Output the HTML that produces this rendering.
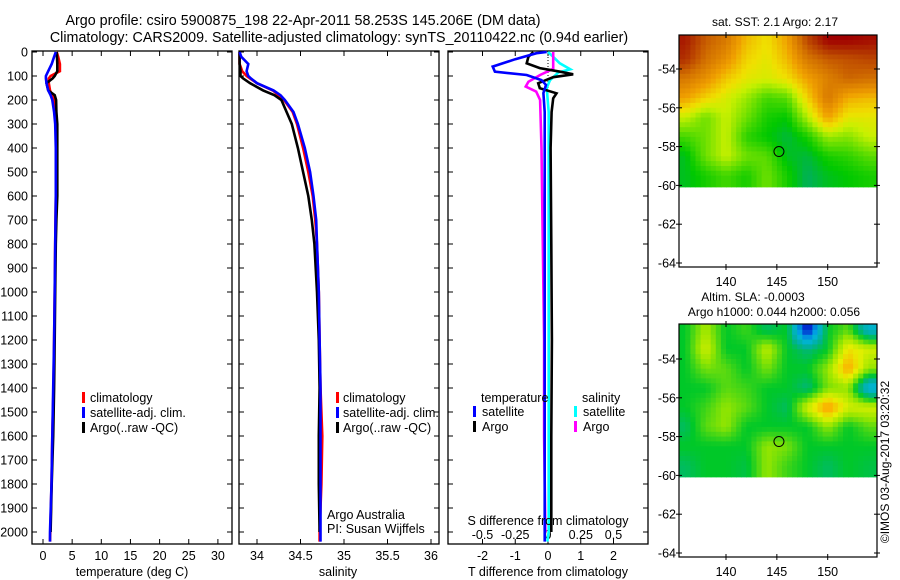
<!DOCTYPE html>
<html><head><meta charset="utf-8">
<style>
html,body{margin:0;padding:0;background:#fff;}
svg{display:block;font-family:"Liberation Sans",sans-serif;}
text{fill:#000;}
</style></head>
<body>
<svg id="fig" width="900" height="580" viewBox="0 0 900 580" xmlns="http://www.w3.org/2000/svg">
<rect width="900" height="580" fill="#fff"/>
<text x="303" y="25" font-size="14.3" text-anchor="middle">Argo profile: csiro 5900875_198 22-Apr-2011 58.253S 145.206E (DM data)</text>
<text x="339" y="42" font-size="14.3" text-anchor="middle">Climatology: CARS2009. Satellite-adjusted climatology: synTS_20110422.nc (0.94d earlier)</text>
<g id="g"></g>
</svg>
<script>
// ---- data ----
const depthTicks=[0,100,200,300,400,500,600,700,800,900,1000,1100,1200,1300,1400,1500,1600,1700,1800,1900,2000];
const tempTicks=[0,5,10,15,20,25,30];
const salTicks=[34,34.5,35,35.5,36];
const dTTicks=[-2,-1,0,1,2];
const dSTicks=[-0.5,-0.25,0,0.25,0.5];
const dSTickLabels=["-0.5","-0.25","0","0.25","0.5"];

const profDepth=[0,20,50,80,100,110,130,160,180,200,250,300,400,500,600,700,800,1000,1200,1400,1600,1800,2000,2040];
const tClim=[2.35,2.6,2.9,2.9,1.3,1.0,1.0,1.2,1.6,1.9,2.1,2.2,2.25,2.25,2.2,2.15,2.1,2.0,1.9,1.8,1.6,1.45,1.25,1.2];
const tSat=[2.2,1.9,1.5,0.9,0.5,0.5,0.6,0.9,1.3,1.6,1.9,2.1,2.2,2.2,2.2,2.15,2.1,2.0,1.9,1.75,1.6,1.45,1.2,1.2];
const argoDepth=[0,20,50,80,100,110,130,160,180,200,250,300,400,500,600,700,800,1000,1200,1400,1600,1800,2000];
const tArgo=[2.35,2.4,2.45,2.45,2.0,1.65,0.6,0.9,2.0,2.25,2.3,2.45,2.45,2.45,2.45,2.3,2.2,2.1,2.0,1.9,1.75,1.5,1.3];
const sClim=[33.80,33.80,33.80,33.83,33.88,33.92,34.00,34.18,34.25,34.31,34.41,34.46,34.53,34.59,34.64,34.67,34.69,34.71,34.72,34.73,34.75,34.74,34.72,34.72];
const sSat=[33.80,33.82,33.90,33.88,33.90,33.93,34.00,34.19,34.27,34.32,34.42,34.47,34.55,34.61,34.65,34.68,34.69,34.71,34.72,34.73,34.73,34.73,34.73,34.73];
const sArgo=[33.80,33.80,33.80,33.81,33.81,33.84,33.92,34.07,34.20,34.28,34.34,34.40,34.47,34.53,34.59,34.63,34.66,34.69,34.71,34.72,34.71,34.71,34.72];

const dTSatDepth=[0,5,30,61,82,96,117,137,171,250,600,1000,1500,2040];
const dTSat=[-0.04,-0.35,-1.0,-1.69,-1.62,-0.65,-0.2,-0.06,-0.14,-0.1,-0.1,-0.1,-0.1,-0.1];
const dTArgoDepth=[0,20,47,67,82,93,105,130,151,172,193,250,400,800,1200,1600,2000];
const dTArgo=[-0.45,-0.6,-0.65,-0.25,0.37,0.77,0.16,-0.3,-0.25,0.26,0.16,0.11,0.08,0.1,0.12,0.1,0.1];
const dSSatDepth=[0,20,47,72,85,117,150,250,600,1000,1500,2000,2040];
const dSSat=[0,0.04,0.09,0.17,0.08,0.015,-0.01,0.005,0.005,0.005,0.005,0.005,-0.005];
const dSArgoDepth=[0,20,70,96,124,144,165,200,400,800,1200,1600,2000];
const dSArgo=[0.04,0.04,0.04,-0.06,-0.15,-0.17,-0.09,-0.06,-0.05,-0.04,-0.03,-0.03,-0.02];

const mapLons=[136,138,140,142,144,146,148,150,152,154];
const mapLats=[-52.5,-53.5,-54.5,-55.5,-56.5,-57.5,-58.5,-59.5];
const sstGrid=[
[5.2,4.6,4.3,3.6,3.3,3.8,4.8,5.4,5.4,5.3],
[5.0,4.4,4.0,3.4,3.2,3.6,4.3,4.6,4.7,4.8],
[4.3,4.0,3.5,3.2,3.1,3.3,3.8,4.2,4.5,4.4],
[3.8,3.4,3.1,2.8,2.4,2.5,3.4,4.3,3.7,3.6],
[3.0,2.6,3.0,2.6,2.2,2.1,2.9,3.8,3.2,3.2],
[2.4,2.6,3.0,2.3,2.1,1.9,2.2,2.8,2.7,3.0],
[2.0,2.6,3.0,2.6,2.5,2.0,1.9,2.2,2.3,2.5],
[2.0,2.2,2.4,2.2,2.6,2.2,1.8,2.0,2.1,2.2]];
const slaGrid=[
[0,0.06,0,0.02,-0.02,0,-0.2,0,0.03,-0.08],
[0,0.08,0,0,0.07,0,-0.03,0,0.10,0.08],
[0,0.04,0.03,0,0.04,0,0,0.05,0.14,0.05],
[0,0,0.03,0.02,0,0,-0.03,0.04,0.05,-0.1],
[0,0.02,0.05,0.03,0,-0.02,0.08,0.15,0.08,0.08],
[-0.02,0.03,0.05,0,0,0,0,0.05,0,0.03],
[0,0,0,0,0.05,0.04,0,0,0,0],
[-0.02,0,0,-0.01,0.05,0.02,0,-0.02,0,-0.01]];
const lonTicks=[140,145,150];
const latTicks=[-54,-56,-58,-60,-62,-64];
const argoLon=145.206, argoLat=-58.253;

// ---- scales ----
const NS="http://www.w3.org/2000/svg";
const G=document.getElementById('g');
function mk(tag,attrs,parent){const e=document.createElementNS(NS,tag);for(const k in attrs)e.setAttribute(k,attrs[k]);(parent||G).appendChild(e);return e;}
const yD=d=>52+0.24*d;
const xT=t=>43+5.83*t;
const xS=s=>257+87*(s-34);
const xDT=t=>548+32.75*t;
const xDS=s=>548+131*s;
const TOP=51,BOT=544;
const panels=[[32,232],[239,439],[448,648]];

function frame(x0,x1,name){
  const r=mk('rect',{x:x0,y:TOP,width:x1-x0,height:BOT-TOP,fill:'none',stroke:'#000','stroke-width':1.3});
  
  
  depthTicks.forEach(d=>{
    const t1=mk('line',{x1:x0,x2:x0+5,y1:yD(d),y2:yD(d),stroke:'#000'});
    
    
    const t2=mk('line',{x1:x1-5,x2:x1,y1:yD(d),y2:yD(d),stroke:'#000'});
    
    
  });
}
function xticks(vals,fx,labels,ly,name){
  vals.forEach((v,i)=>{
    const x=fx(v);
    const a=mk('line',{x1:x,x2:x,y1:TOP,y2:TOP+5,stroke:'#000'});
    
    
    const b=mk('line',{x1:x,x2:x,y1:BOT-5,y2:BOT,stroke:'#000'});
    
    
    if(ly){const t=mk('text',{x:x,y:ly,'font-size':12.5,'text-anchor':'middle'});t.textContent=labels?labels[i]:String(v);
    
    }
  });
}
function line(xs,ds,fx,color,name){
  const pts=xs.map((v,i)=>fx(v).toFixed(1)+','+yD(ds[i]).toFixed(1)).join(' ');
  const p=mk('polyline',{points:pts,fill:'none',stroke:color,'stroke-width':2.6,'stroke-linejoin':'miter'});
  
  
}
function txt(x,y,s,size,anchor,name){const t=mk('text',{x:x,y:y,'font-size':size||12.5,'text-anchor':anchor||'start'});t.textContent=s;
  
  return t;}
function legmark(x,y,color,name){const r=mk('rect',{x:x,y:y-10,width:3,height:11,fill:color});
  
  }

// depth labels
depthTicks.forEach(d=>txt(28,yD(d)+4.5,String(d),12.5,'end','depth-tick-label'));

// panel 1: temperature
frame(panels[0][0],panels[0][1],'temperature-panel');
xticks(tempTicks,xT,null,560,'temperature-axis');
line(tClim,profDepth,xT,'#ff0000','temp-climatology-line');
line(tArgo,argoDepth,xT,'#000000','temp-argo-line');
line(tSat,profDepth,xT,'#0000ff','temp-satellite-line');
txt(132,576,'temperature (deg C)',12.5,'middle','temperature-axis-title');
legmark(82,402,'#f00','legend-climatology-mark');txt(90,402,'climatology',12.5,'start','legend-climatology');
legmark(82,417,'#00f','legend-satellite-mark');txt(90,417,'satellite-adj. clim.',12.5,'start','legend-satellite');
legmark(82,432,'#000','legend-argo-mark');txt(90,432,'Argo(..raw -QC)',12.5,'start','legend-argo');

// panel 2: salinity
frame(panels[1][0],panels[1][1],'salinity-panel');
xticks(salTicks,xS,null,560,'salinity-axis');
line(sClim,profDepth,xS,'#ff0000','sal-climatology-line');
line(sArgo,argoDepth,xS,'#000000','sal-argo-line');
line(sSat,profDepth,xS,'#0000ff','sal-satellite-line');
txt(338,576,'salinity',12.5,'middle','salinity-axis-title');
legmark(336,402,'#f00','legend2-climatology-mark');txt(343,402,'climatology',12.5,'start','legend2-climatology');
legmark(336,417,'#00f','legend2-satellite-mark');txt(343,417,'satellite-adj. clim.',12.5,'start','legend2-satellite');
legmark(336,432,'#000','legend2-argo-mark');txt(343,432,'Argo(..raw -QC)',12.5,'start','legend2-argo');
txt(327,519,'Argo Australia',12.5,'start','operator-label');
txt(327,533,'PI: Susan Wijffels',12.5,'start','pi-label');

// panel 3: differences
frame(panels[2][0],panels[2][1],'difference-panel');
xticks(dTTicks,xDT,null,560,'t-diff-axis');
dSTicks.forEach((v,i)=>{const t=txt(xDS(v),539,dSTickLabels[i],12.5,'middle','s-diff-tick-label');});
const z=mk('line',{x1:548,x2:548,y1:TOP,y2:BOT,stroke:'#000','stroke-width':1,'stroke-dasharray':'1,2'});


line(dSSat,dSSatDepth,xDS,'#00ffff','s-diff-satellite-line');
line(dSArgo,dSArgoDepth,xDS,'#ff00ff','s-diff-argo-line');
line(dTArgo,dTArgoDepth,xDT,'#000000','t-diff-argo-line');
line(dTSat,dTSatDepth,xDT,'#0000ff','t-diff-satellite-line');
txt(548,525,'S difference from climatology',12.5,'middle','s-diff-axis-title');
txt(548,576,'T difference from climatology',12.5,'middle','t-diff-axis-title');
txt(481,402,'temperature',12.5,'start','legend3-temperature-header');
legmark(473,416,'#00f','legend3-t-satellite-mark');txt(482,416,'satellite',12.5,'start','legend3-t-satellite');
legmark(473,431,'#000','legend3-t-argo-mark');txt(482,431,'Argo',12.5,'start','legend3-t-argo');
txt(582,402,'salinity',12.5,'start','legend3-salinity-header');
legmark(574,416,'#0ff','legend3-s-satellite-mark');txt(583,416,'satellite',12.5,'start','legend3-s-satellite');
legmark(574,431,'#f0f','legend3-s-argo-mark');txt(583,431,'Argo',12.5,'start','legend3-s-argo');

// maps
function sstColor(v){
  const stops=[[1.7,[0,168,120]],[2.1,[0,200,0]],[2.6,[110,224,0]],[3.0,[200,240,0]],[3.3,[240,224,0]],[3.8,[240,160,0]],[4.4,[210,112,0]],[5.0,[176,48,0]],[5.4,[160,0,0]]];
  return interp(stops,v);
}
function slaColor(v){
  const stops=[[-0.2,[0,0,200]],[-0.1,[0,180,230]],[-0.04,[0,176,150]],[0,[0,200,40]],[0.05,[150,230,0]],[0.09,[230,240,0]],[0.13,[250,180,0]],[0.17,[240,100,0]]];
  return interp(stops,v);
}
function interp(stops,v){
  if(v<=stops[0][0])return 'rgb('+stops[0][1]+')';
  for(let i=1;i<stops.length;i++){if(v<=stops[i][0]){const f=(v-stops[i-1][0])/(stops[i][0]-stops[i-1][0]);const c=stops[i-1][1].map((a,k)=>Math.round(a+f*(stops[i][1][k]-a)));return 'rgb('+c+')';}}
  return 'rgb('+stops[stops.length-1][1]+')';
}
// bilinear sample of grid at fractional (row,col)
function sample(grid,r,c){
  const R=grid.length,C=grid[0].length;
  r=Math.max(0,Math.min(R-1,r));c=Math.max(0,Math.min(C-1,c));
  const r0=Math.floor(r),c0=Math.floor(c),r1=Math.min(R-1,r0+1),c1=Math.min(C-1,c0+1);
  const fr=r-r0,fc=c-c0;
  return grid[r0][c0]*(1-fr)*(1-fc)+grid[r0][c1]*(1-fr)*fc+grid[r1][c0]*fr*(1-fc)+grid[r1][c1]*fr*fc;
}
function drawMap(y0,y1,latAt54,grid,colorFn,name){
  const x0=679,x1=877;
  const xL=lon=>726+10.17*(lon-140);
  const yL=lat=>latAt54+19.4*(-54-lat);
  const clip='clip-'+name;
  const cp=mk('clipPath',{id:clip});
  mk('rect',{x:x0,y:y0,width:x1-x0,height:yL(-60.1)-y0},cp);
  const g=mk('g',{'clip-path':'url(#'+clip+')'});
  
  
  const SUB=4;
  const lonStep=mapLons[1]-mapLons[0], latStep=mapLats[0]-mapLats[1];
  const nC=mapLons.length*SUB, nR=(mapLats.length+1)*SUB;
  for(let i=0;i<nR;i++){
    for(let j=0;j<nC;j++){
      const lat=mapLats[0]+latStep - (i+0.5)*latStep/SUB;
      const lon=mapLons[0]-lonStep/2+(j+0.5)*lonStep/SUB;
      const rr=(mapLats[0]-lat)/latStep, cc=(lon-mapLons[0])/lonStep;
      const v=sample(grid,rr,cc);
      const xa=xL(lon-lonStep/SUB/2), xb=xL(lon+lonStep/SUB/2);
      const ya=yL(lat+latStep/SUB/2), yb=yL(lat-latStep/SUB/2);
      const cell=mk('rect',{x:xa.toFixed(1),y:ya.toFixed(1),width:(xb-xa+0.6).toFixed(1),height:(yb-ya+0.6).toFixed(1),fill:colorFn(v)},g);
      
      
    }
  }
  const f=mk('rect',{x:x0,y:y0,width:x1-x0,height:y1-y0,fill:'none',stroke:'#000','stroke-width':1.2});
  
  
  latTicks.forEach(l=>{const y=yL(l);
    const t=mk('line',{x1:x0-3,x2:x0+3,y1:y,y2:y,stroke:'#000'});
    
    
    const t2=mk('line',{x1:x1-3,x2:x1+3,y1:y,y2:y,stroke:'#000'});
    
    
    txt(676,y+4.5,String(l),12.5,'end','lat-tick-label');});
  lonTicks.forEach(l=>{const x=xL(l);
    const t=mk('line',{x1:x,x2:x,y1:y0-3,y2:y0+3,stroke:'#000'});
    
    
    const t2=mk('line',{x1:x,x2:x,y1:y1-3,y2:y1+3,stroke:'#000'});
    
    
    txt(x,y1+19,String(l),12.5,'middle','lon-tick-label');});
  const c=mk('circle',{cx:xL(argoLon),cy:yL(argoLat),r:5,fill:'none',stroke:'#000','stroke-width':1});
  
  
}
drawMap(35,267,69,sstGrid,sstColor,'sst-map');
txt(775,26,'sat. SST: 2.1 Argo: 2.17',12,'middle','sst-map-title');
drawMap(324,557,359,slaGrid,slaColor,'sla-map');
txt(753,301,'Altim. SLA: -0.0003',12,'middle','sla-map-title-1');
txt(774,316,'Argo h1000: 0.044 h2000: 0.056',12,'middle','sla-map-title-2');
const cr=txt(0,0,'©IMOS 03-Aug-2017 03:20:32',12,'middle','copyright-stamp');
cr.setAttribute('transform','translate(889,462) rotate(-90)');
</script>
</body></html>
